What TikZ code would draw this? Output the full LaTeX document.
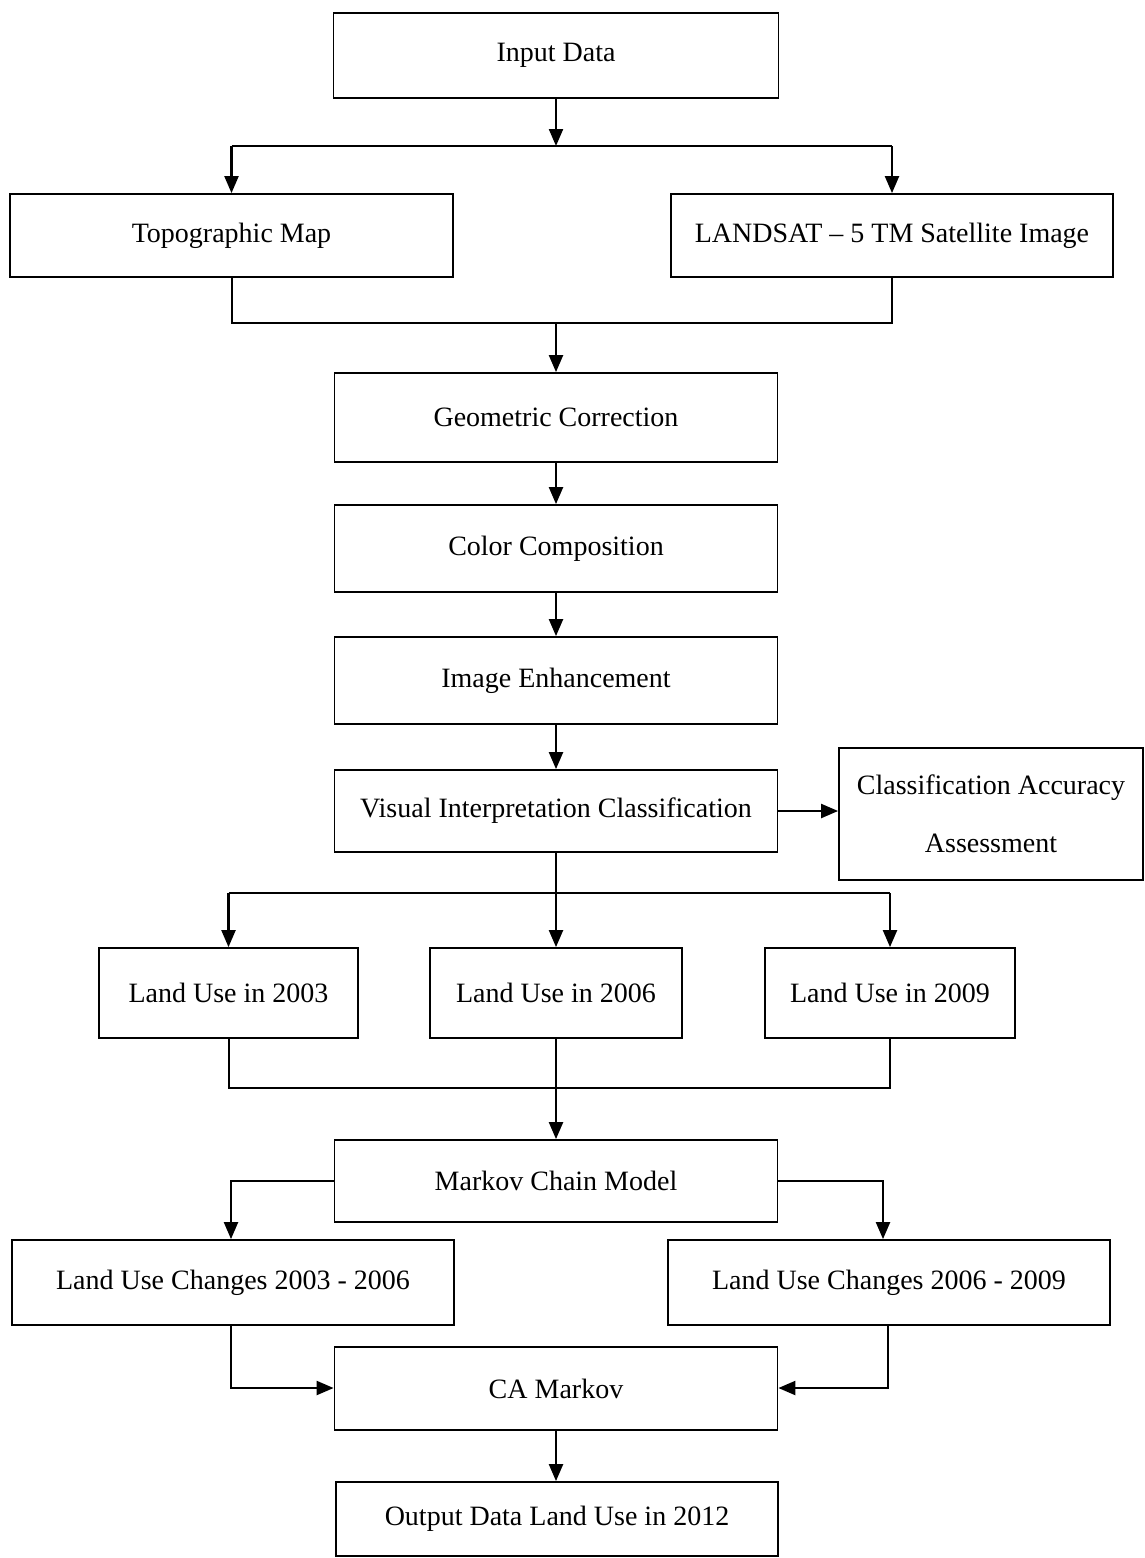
\documentclass[tikz,border=0pt]{standalone}
\usepackage{fontspec}
\setmainfont{Liberation Serif}
\usetikzlibrary{arrows.meta}
\tikzset{
  box/.style={draw, line width=0.9pt, inner sep=0pt, align=center, font=\fontsize{14}{29}\selectfont},
  conn/.style={line width=1pt},
  arr/.style={line width=1.1pt, -{Triangle[width=7pt,length=8.5pt]}}
}
\begin{document}
\begin{tikzpicture}[x=0.5pt,y=-0.5pt]
\useasboundingbox (0,0) rectangle (1145,1558);
% boxes
\node[box, minimum width=222.5pt, minimum height=42.5pt] (input) at (556,55.5) {Input Data};
\node[box, minimum width=221.5pt, minimum height=41.5pt] (topo) at (231.5,235.5) {Topographic Map};
\node[box, minimum width=221pt, minimum height=41.5pt] (land) at (892,235.5) {LANDSAT -- 5 TM Satellite Image};
\node[box, minimum width=221.5pt, minimum height=44.5pt] (geo) at (556,417.5) {Geometric Correction};
\node[box, minimum width=221.5pt, minimum height=43.5pt] (color) at (556,548.5) {Color Composition};
\node[box, minimum width=221.5pt, minimum height=43.5pt] (image) at (556,680.5) {Image Enhancement};
\node[box, minimum width=221.5pt, minimum height=41pt] (visual) at (556,811) {Visual Interpretation Classification};
\node[box, minimum width=152pt, minimum height=66pt] (class) at (991,814) {Classification Accuracy\\Assessment};
\node[box, minimum width=129.5pt, minimum height=45pt] (lu03) at (228.5,993) {Land Use in 2003};
\node[box, minimum width=126pt, minimum height=45pt] (lu06) at (556,993) {Land Use in 2006};
\node[box, minimum width=125pt, minimum height=45pt] (lu09) at (890,993) {Land Use in 2009};
\node[box, minimum width=221.5pt, minimum height=41pt] (markov) at (556,1181) {Markov Chain Model};
\node[box, minimum width=221pt, minimum height=42.5pt] (ch03) at (233,1282.5) {Land Use Changes 2003 - 2006};
\node[box, minimum width=221pt, minimum height=42.5pt] (ch06) at (889,1282.5) {Land Use Changes 2006 - 2009};
\node[box, minimum width=221.5pt, minimum height=41.5pt] (ca) at (556,1388.5) {CA Markov};
\node[box, minimum width=221pt, minimum height=37pt] (out) at (557,1519) {Output Data Land Use in 2012};
% junction coordinates
\coordinate (j1L) at (231.5,146);
\coordinate (j1M) at (556,146);
\coordinate (j1R) at (892,146);
\coordinate (j2L) at (231.5,323);
\coordinate (j2M) at (556,323);
\coordinate (j2R) at (892,323);
\coordinate (j3L) at (228.5,893);
\coordinate (j3M) at (556,893);
\coordinate (j3R) at (890,893);
\coordinate (j4L) at (228.5,1088);
\coordinate (j4M) at (556,1088);
\coordinate (j4R) at (890,1088);
\coordinate (mL) at (231,1181);
\coordinate (mR) at (883,1181);
\coordinate (cL) at (231,1388);
\coordinate (cR) at (888,1388);
% connectors
\draw[arr] (input.south) -- (j1M);
\draw[conn] (j1L) -- (j1R);
\draw[arr] (j1L) -- (topo.north);
\draw[arr] (j1R) -- (land.north);
\draw[conn] (topo.south) -- (j2L) -- (j2R) -- (land.south);
\draw[arr] (j2M) -- (geo.north);
\draw[arr] (geo.south) -- (color.north);
\draw[arr] (color.south) -- (image.north);
\draw[arr] (image.south) -- (visual.north);
\draw[arr] (visual.east) -- (visual.east -| class.west);
\draw[arr] (visual.south) -- (lu06.north);
\draw[conn] (j3L) -- (j3R);
\draw[arr] (j3L) -- (lu03.north);
\draw[arr] (j3R) -- (lu09.north);
\draw[conn] (lu03.south) -- (j4L) -- (j4R) -- (lu09.south);
\draw[conn] (lu06.south) -- (j4M);
\draw[arr] (j4M) -- (markov.north);
\draw[arr] (markov.west) -- (mL) -- (mL |- ch03.north);
\draw[arr] (markov.east) -- (mR) -- (mR |- ch06.north);
\draw[arr] (cL |- ch03.south) -- (cL) -- (ca.west |- cL);
\draw[arr] (cR |- ch06.south) -- (cR) -- (ca.east |- cR);
\draw[arr] (ca.south) -- (ca.south |- out.north);
\end{tikzpicture}
\end{document}
